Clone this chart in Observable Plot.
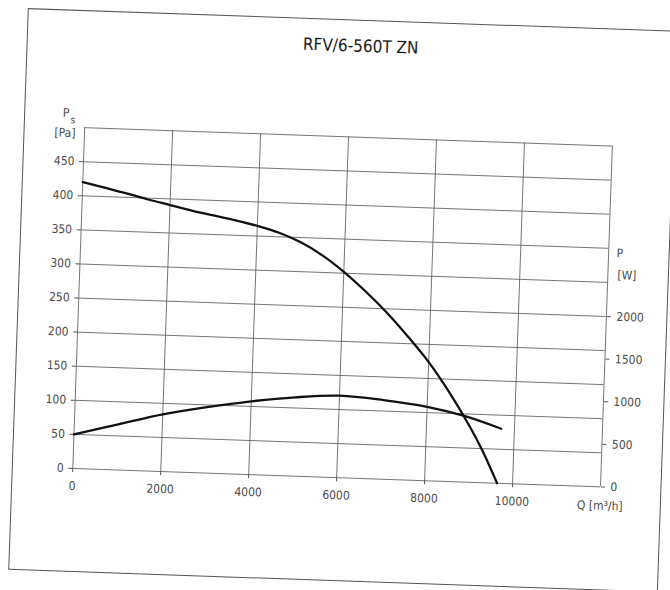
<!DOCTYPE html>
<html>
<head>
<meta charset="utf-8">
<script src="https://cdn.jsdelivr.net/npm/d3@7"></script>
<script src="https://cdn.jsdelivr.net/npm/@observablehq/plot@0.6"></script>
<style>
  html, body { margin: 0; padding: 0; background: #fff; overflow: hidden; }
  #page { position: relative; width: 670px; height: 590px; transform: rotate(2deg); transform-origin: 335px 295px; }
  #frame { position: absolute; left: 18px; top: 19px; width: 650px; height: 562px; border: 1.2px solid #555; box-sizing: border-box; }
  #title { position: absolute; left: 252px; width: 200px; top: 35px; line-height: 20px; text-align: center;
           font-family: "DejaVu Sans Condensed", "DejaVu Sans", sans-serif; font-size: 17px; color: #1a1a1a; }
  #chart { position: absolute; left: 0; top: 0; }
</style>
</head>
<body>
<div id="page">
  <div id="frame"></div>
  <div id="title">RFV/6-560T ZN</div>
  <div id="chart"></div>
</div>
<script>
// Tick labels / grid
const qTicks = [0, 2000, 4000, 6000, 8000, 10000];
const psTicks = [0, 50, 100, 150, 200, 250, 300, 350, 400, 450];
const wTicks = [0, 500, 1000, 1500, 2000];
const gridQ = [0, 2000, 4000, 6000, 8000, 10000, 12000];
const gridPs = [0, 50, 100, 150, 200, 250, 300, 350, 400, 450, 500];

// Static pressure curve Ps [Pa] vs Q [m3/h]
const psQ = [0, 500, 1000, 1500, 2000, 2500, 3000, 3500, 4000, 4500, 5000, 5500, 6000, 6500, 7000, 7500, 8000, 8500, 9000, 9300, 9650];
const psVal = [420, 413, 406, 398, 391, 384, 378, 372, 365, 356, 343, 325, 302, 275, 245, 211, 174, 130, 80, 46, 0];

// Power curve P [W] vs Q [m3/h]
const pQ = [0, 1000, 2000, 3000, 4000, 5000, 6000, 7000, 8000, 8850, 9700];
const pVal = [400, 535, 670, 773, 860, 925, 962, 929, 868, 776, 641];

const W_PER_PA = 8; // right axis: 4000 W spans the same height as 500 Pa

const psData = psQ.map((q, i) => ({q, v: psVal[i]}));
const pData = pQ.map((q, i) => ({q, v: pVal[i] / W_PER_PA}));

const chart = Plot.plot({
  width: 670,
  height: 590,
  marginLeft: 78.5,
  marginRight: 63.5,
  marginTop: 136,
  marginBottom: 113,
  x: {domain: [0, 12000]},
  y: {domain: [0, 500]},
  style: {
    fontFamily: "'DejaVu Sans Condensed', 'DejaVu Sans', sans-serif",
    fontSize: "12px",
    color: "#4a4a4a",
    background: "transparent",
    overflow: "visible"
  },
  marks: [
    Plot.ruleY(gridPs, {y: d => d, x1: 0, x2: 12000, stroke: "#555", strokeWidth: 0.8}),
    Plot.ruleX(gridQ, {x: d => d, y1: 0, y2: 500, stroke: "#555", strokeWidth: 0.8}),
    Plot.axisY(psTicks, {anchor: "left", tickSize: 4, tickPadding: 5, label: null, stroke: "#555"}),
    Plot.axisY(wTicks.map(w => w / W_PER_PA), {anchor: "right", tickSize: 4, tickPadding: 6, label: null,
      tickFormat: d => String(Math.round(d * W_PER_PA)), stroke: "#555"}),
    Plot.axisX(qTicks, {anchor: "bottom", tickSize: 4, tickPadding: 9, label: null,
      tickFormat: d => String(d), stroke: "#555"}),
    Plot.line(psData, {x: "q", y: "v", curve: "catmull-rom", stroke: "#111", strokeWidth: 2.3}),
    Plot.line(pData, {x: "q", y: "v", curve: "catmull-rom", stroke: "#111", strokeWidth: 2.3}),
    Plot.text(["[Pa]"], {x: 0, y: 500, text: d => d, dx: -9, dy: 6, textAnchor: "end", fill: "#4a4a4a"}),
    Plot.text(["P"], {x: 0, y: 500, text: d => d, dx: -19, dy: -14, fill: "#4a4a4a"}),
    Plot.text(["s"], {x: 0, y: 500, text: d => d, dx: -12, dy: -7, fontSize: 10, fill: "#4a4a4a"}),
    Plot.text(["P"], {x: 12000, y: 343, text: d => d, dx: 8, textAnchor: "start", fill: "#4a4a4a"}),
    Plot.text(["[W]"], {x: 12000, y: 311, text: d => d, dx: 9.5, textAnchor: "start", fill: "#4a4a4a"}),
    Plot.text(["Q [m³/h]"], {x: 12000, y: 0, text: d => d, dy: 19, fill: "#4a4a4a"})
  ]
});
document.getElementById("chart").appendChild(chart);
</script>
</body>
</html>
